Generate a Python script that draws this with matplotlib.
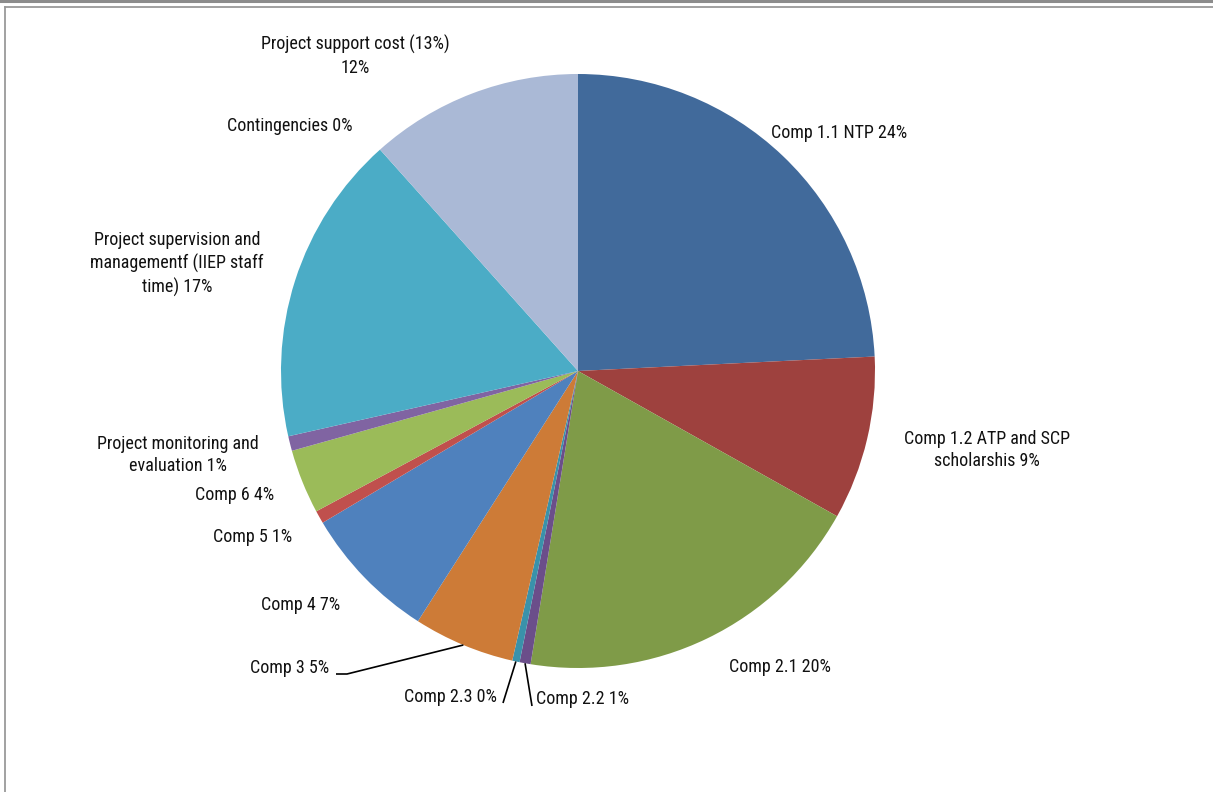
import matplotlib
matplotlib.use("Agg")
import matplotlib.pyplot as plt
from matplotlib import font_manager
from matplotlib.lines import Line2D
import numpy as np

# slice data (clockwise from 12 o'clock)
labels = ["Comp 1.1 NTP 24%", "Comp 1.2 ATP and SCP\nscholarshis 9%", "Comp 2.1 20%",
          "Comp 2.2 1%", "Comp 2.3 0%", "Comp 3 5%", "Comp 4 7%", "Comp 5 1%", "Comp 6 4%",
          "Project monitoring and\nevaluation 1%",
          "Project supervision and\nmanagementf (IIEP staff\ntime) 17%",
          "Contingencies 0%", "Project support cost (13%)\n12%"]
shares = [24.2, 8.9, 19.4, 0.6, 0.4, 5.5, 7.4, 0.7, 3.5, 0.8, 16.9, 0.0, 11.6]
colors = ["#416A9B", "#9E413E", "#7F9B48", "#6B4E8A", "#3A92AA", "#CD7B37", "#4F81BD",
          "#C0504D", "#9BBB59", "#8064A2", "#4BACC6", "#7F7F7F", "#AAB9D6"]

W, H = 1213, 792
names = {f.name for f in font_manager.fontManager.ttflist}
fam = "Roboto Condensed" if "Roboto Condensed" in names else "Liberation Sans"
plt.rcParams["font.family"] = [fam, "DejaVu Sans"]

fig = plt.figure(figsize=(W / 100, H / 100), dpi=100)
ax = fig.add_axes([0, 0, 1, 1])

cx, cy, r = 578, H - 371, 297
wedges, _ = ax.pie(shares, colors=colors, startangle=90, counterclock=False,
                   center=(cx, cy), radius=r, wedgeprops=dict(linewidth=0))
ax.set_xlim(0, W)
ax.set_ylim(0, H)
ax.set_aspect("equal")
ax.axis("off")

# label placement: (x, y from top, horizontal alignment)
label_pos = [(839, 133, "center"), (987, 450, "center"), (780, 667, "center"),
             (536, 699, "left"), (497, 697, "right"), (329, 668, "right"),
             (301, 605, "center"), (253, 537, "center"), (235, 495, "center"),
             (178, 455, "center"), (177, 264, "center"), (290, 126, "center"),
             (355, 56, "center")]
fs = 13 if fam == "Roboto Condensed" else 11
for lab, (x, y, ha) in zip(labels, label_pos):
    ax.text(x, H - y, lab, ha=ha, va="center", fontsize=fs, linespacing=1.35,
            multialignment="center", color="#111111")

# leader lines for the small bottom slices
leaders = {5: [(347, 674), (336, 674)], 4: [(503, 703)], 3: [(532, 706)]}
for i, pts in leaders.items():
    w = wedges[i]
    th = np.deg2rad((w.theta1 + w.theta2) / 2)
    xs = [cx + r * np.cos(th)] + [p[0] for p in pts]
    ys = [cy + r * np.sin(th)] + [H - p[1] for p in pts]
    ax.plot(xs, ys, color="black", lw=1.2, solid_capstyle="butt")

# outer frame
fig.add_artist(Line2D([0, 1], [1 - 1 / H, 1 - 1 / H], color="#8C8C8C", lw=2.2))
fig.add_artist(Line2D([5 / W, 1], [1 - 7 / H, 1 - 7 / H], color="#9A9A9A", lw=1.3))
fig.add_artist(Line2D([5 / W, 5 / W], [0, 1 - 7 / H], color="#9A9A9A", lw=1.3))

fig.savefig("out.png", dpi=100)
